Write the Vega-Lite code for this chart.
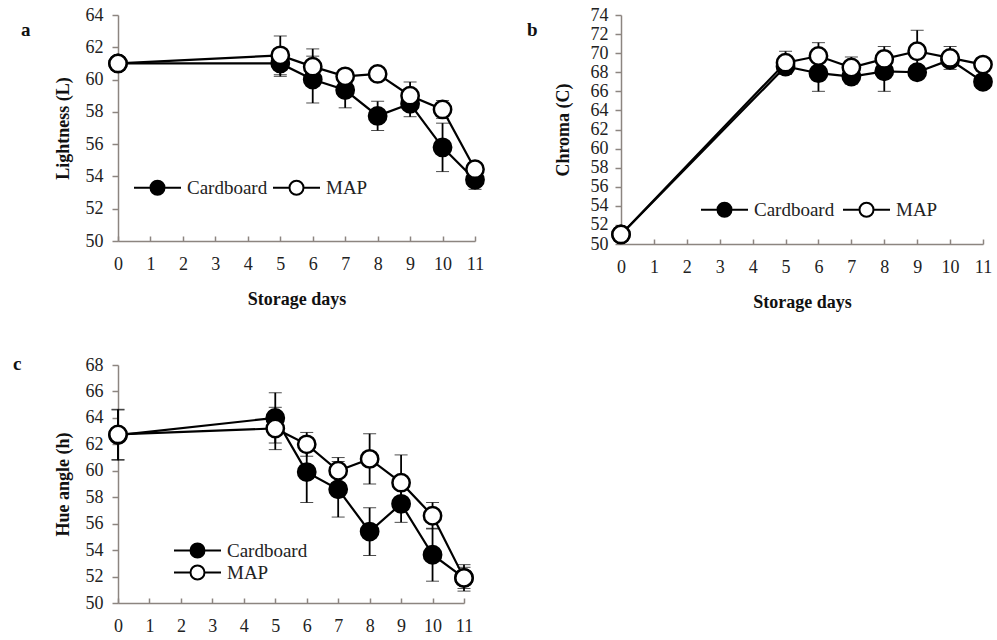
{
  "$schema": "https://vega.github.io/schema/vega-lite/v6.json",
  "background": "white",
  "padding": {"left": 13, "top": 6, "right": 5, "bottom": 5},
  "config": {
    "view": {"stroke": null},
    "font": "Liberation Serif",
    "axis": {
      "grid": false,
      "domainColor": "#8c8580",
      "tickColor": "#8c8580",
      "domainWidth": 1.5,
      "tickWidth": 1.5,
      "labelFont": "Liberation Serif",
      "labelFontSize": 18,
      "labelColor": "#222222",
      "labelOverlap": false,
      "labelFlush": false,
      "titleFont": "Liberation Serif",
      "titleFontSize": 18,
      "titleFontWeight": "bold",
      "titleColor": "#111111"
    },
    "axisY": {"tickSize": 6, "labelPadding": 9, "titlePadding": 13, "labelFont": "Liberation Serif"},
    "axisX": {"tickSize": -5, "labelPadding": 19, "titlePadding": 17, "labelFont": "Liberation Serif"},
    "title": {"font": "Liberation Serif", "fontSize": 19, "fontWeight": "bold", "color": "#111111", "anchor": "start", "frame": "group"},
    "legend": {
      "orient": "none",
      "title": null,
      "padding": 0,
      "labelFont": "Liberation Serif",
      "labelFontSize": 19,
      "labelColor": "#222222",
      "symbolType": "M-3.36,0L-1,0M1,0L3.36,0M1,0A1,1,0,1,1,-1,0A1,1,0,1,1,1,0Z",
      "symbolSize": 196,
      "symbolStrokeColor": "black",
      "symbolStrokeWidth": 2,
      "labelOffset": 20,
      "rowPadding": -1
    }
  },
  "datasets": {
    "pts": [
      {"panel": "a", "day": 0, "series": "Cardboard", "value": 61.0, "err": 0},
      {"panel": "a", "day": 5, "series": "Cardboard", "value": 61.0, "err": 0.8},
      {"panel": "a", "day": 6, "series": "Cardboard", "value": 60.0, "err": 1.45},
      {"panel": "a", "day": 7, "series": "Cardboard", "value": 59.35, "err": 1.1},
      {"panel": "a", "day": 8, "series": "Cardboard", "value": 57.75, "err": 0.9},
      {"panel": "a", "day": 9, "series": "Cardboard", "value": 58.5, "err": 0.8},
      {"panel": "a", "day": 10, "series": "Cardboard", "value": 55.8, "err": 1.5},
      {"panel": "a", "day": 11, "series": "Cardboard", "value": 53.8, "err": 0.6},
      {"panel": "a", "day": 0, "series": "MAP", "value": 61.0, "err": 0},
      {"panel": "a", "day": 5, "series": "MAP", "value": 61.5, "err": 1.2},
      {"panel": "a", "day": 6, "series": "MAP", "value": 60.8, "err": 1.1},
      {"panel": "a", "day": 7, "series": "MAP", "value": 60.2, "err": 0.4},
      {"panel": "a", "day": 8, "series": "MAP", "value": 60.35, "err": 0.3},
      {"panel": "a", "day": 9, "series": "MAP", "value": 59.0, "err": 0.85},
      {"panel": "a", "day": 10, "series": "MAP", "value": 58.15, "err": 0.55},
      {"panel": "a", "day": 11, "series": "MAP", "value": 54.45, "err": 0.4},
      {"panel": "b", "day": 0, "series": "Cardboard", "value": 51.0, "err": 0},
      {"panel": "b", "day": 5, "series": "Cardboard", "value": 68.6, "err": 0.8},
      {"panel": "b", "day": 6, "series": "Cardboard", "value": 67.9, "err": 1.9},
      {"panel": "b", "day": 7, "series": "Cardboard", "value": 67.55, "err": 0.8},
      {"panel": "b", "day": 8, "series": "Cardboard", "value": 68.1, "err": 2.1},
      {"panel": "b", "day": 9, "series": "Cardboard", "value": 68.0, "err": 0.5},
      {"panel": "b", "day": 10, "series": "Cardboard", "value": 69.3, "err": 0.6},
      {"panel": "b", "day": 11, "series": "Cardboard", "value": 67.0, "err": 0.5},
      {"panel": "b", "day": 0, "series": "MAP", "value": 51.0, "err": 0},
      {"panel": "b", "day": 5, "series": "MAP", "value": 69.0, "err": 1.2},
      {"panel": "b", "day": 6, "series": "MAP", "value": 69.7, "err": 1.4},
      {"panel": "b", "day": 7, "series": "MAP", "value": 68.5, "err": 1.1},
      {"panel": "b", "day": 8, "series": "MAP", "value": 69.4, "err": 1.3},
      {"panel": "b", "day": 9, "series": "MAP", "value": 70.2, "err": 2.2},
      {"panel": "b", "day": 10, "series": "MAP", "value": 69.5, "err": 1.2},
      {"panel": "b", "day": 11, "series": "MAP", "value": 68.8, "err": 0.5},
      {"panel": "c", "day": 0, "series": "Cardboard", "value": 62.7, "err": 1.9},
      {"panel": "c", "day": 5, "series": "Cardboard", "value": 64.0, "err": 1.9},
      {"panel": "c", "day": 6, "series": "Cardboard", "value": 59.9, "err": 2.3},
      {"panel": "c", "day": 7, "series": "Cardboard", "value": 58.6, "err": 2.1},
      {"panel": "c", "day": 8, "series": "Cardboard", "value": 55.4, "err": 1.8},
      {"panel": "c", "day": 9, "series": "Cardboard", "value": 57.5, "err": 1.4},
      {"panel": "c", "day": 10, "series": "Cardboard", "value": 53.65, "err": 2.0},
      {"panel": "c", "day": 11, "series": "Cardboard", "value": 51.9, "err": 0.8},
      {"panel": "c", "day": 0, "series": "MAP", "value": 62.75, "err": 1.9},
      {"panel": "c", "day": 5, "series": "MAP", "value": 63.2, "err": 1.6},
      {"panel": "c", "day": 6, "series": "MAP", "value": 62.0, "err": 0.9},
      {"panel": "c", "day": 7, "series": "MAP", "value": 60.0, "err": 1.0},
      {"panel": "c", "day": 8, "series": "MAP", "value": 60.9, "err": 1.9},
      {"panel": "c", "day": 9, "series": "MAP", "value": 59.1, "err": 2.1},
      {"panel": "c", "day": 10, "series": "MAP", "value": 56.6, "err": 1.0},
      {"panel": "c", "day": 11, "series": "MAP", "value": 51.9, "err": 1.0}
    ]
  },
  "resolve": {"scale": {"fill": "independent"}, "legend": {"fill": "independent"}},
  "spacing": 44,
  "vconcat": [
    {
      "resolve": {"scale": {"fill": "independent"}, "legend": {"fill": "independent"}},
      "spacing": 38,
      "hconcat": [
        {
          "width": 357,
          "height": 226,
          "title": {"text": "a", "dx": -97, "dy": 38},
          "data": {"name": "pts"},
          "transform": [{"filter": "datum.panel === 'a'"}],
          "encoding": {
            "x": {"field": "day", "type": "quantitative", "scale": {"domain": [0, 11], "nice": false, "zero": false},
                  "axis": {"title": "Storage days", "values": [0,1,2,3,4,5,6,7,8,9,10,11], "format": "d"}},
            "y": {"field": "value", "type": "quantitative", "scale": {"domain": [50, 64], "nice": false, "zero": false},
                  "axis": {"title": "Lightness (L)", "values": [50,52,54,56,58,60,62,64], "format": "d"}}
          },
          "layer": [
            {"mark": {"type": "errorbar", "ticks": {"size": 13, "color": "black", "strokeWidth": 1.8}, "rule": {"color": "black", "strokeWidth": 1.8}},
             "encoding": {"yError": {"field": "err"}}},
            {"mark": {"type": "line", "color": "black", "strokeWidth": 2.2}, "encoding": {"detail": {"field": "series"}}},
            {"mark": {"type": "circle", "size": 300, "stroke": "black", "strokeWidth": 2.5, "opacity": 1},
             "encoding": {"fill": {"field": "series", "type": "nominal", "scale": {"domain": ["Cardboard", "MAP"], "range": ["black", "white"]},
                                   "legend": {"direction": "horizontal", "legendX": 30, "legendY": 163, "columnPadding": 0}}}}
          ]
        },
        {
          "width": 362,
          "height": 229,
          "title": {"text": "b", "dx": -94, "dy": 38},
          "data": {"name": "pts"},
          "transform": [{"filter": "datum.panel === 'b'"}],
          "encoding": {
            "x": {"field": "day", "type": "quantitative", "scale": {"domain": [0, 11], "nice": false, "zero": false},
                  "axis": {"title": "Storage days", "values": [0,1,2,3,4,5,6,7,8,9,10,11], "format": "d"}},
            "y": {"field": "value", "type": "quantitative", "scale": {"domain": [50, 74], "nice": false, "zero": false},
                  "axis": {"title": "Chroma (C)", "values": [50,52,54,56,58,60,62,64,66,68,70,72,74], "format": "d", "labelPadding": 7, "titlePadding": 18}}
          },
          "layer": [
            {"mark": {"type": "errorbar", "ticks": {"size": 13, "color": "black", "strokeWidth": 1.8}, "rule": {"color": "black", "strokeWidth": 1.8}},
             "encoding": {"yError": {"field": "err"}}},
            {"mark": {"type": "line", "color": "black", "strokeWidth": 2.2}, "encoding": {"detail": {"field": "series"}}},
            {"mark": {"type": "circle", "size": 300, "stroke": "black", "strokeWidth": 2.5, "opacity": 1},
             "encoding": {"fill": {"field": "series", "type": "nominal", "scale": {"domain": ["Cardboard", "MAP"], "range": ["black", "white"]},
                                   "legend": {"direction": "horizontal", "legendX": 94, "legendY": 185, "columnPadding": 3}}}}
          ]
        }
      ]
    },
    {
      "width": 346,
      "height": 238,
      "title": {"text": "c", "dx": -105, "dy": 22},
      "data": {"name": "pts"},
      "transform": [{"filter": "datum.panel === 'c'"}],
      "encoding": {
        "x": {"field": "day", "type": "quantitative", "scale": {"domain": [0, 11], "nice": false, "zero": false},
              "axis": {"title": null, "values": [0,1,2,3,4,5,6,7,8,9,10,11], "format": "d"}},
        "y": {"field": "value", "type": "quantitative", "scale": {"domain": [50, 68], "nice": false, "zero": false},
              "axis": {"title": "Hue angle (h)", "values": [50,52,54,56,58,60,62,64,66,68], "format": "d"}}
      },
      "layer": [
        {"mark": {"type": "errorbar", "ticks": {"size": 13, "color": "black", "strokeWidth": 1.8}, "rule": {"color": "black", "strokeWidth": 1.8}},
         "encoding": {"yError": {"field": "err"}}},
        {"mark": {"type": "line", "color": "black", "strokeWidth": 2.2}, "encoding": {"detail": {"field": "series"}}},
        {"mark": {"type": "circle", "size": 300, "stroke": "black", "strokeWidth": 2.5, "opacity": 1},
         "encoding": {"fill": {"field": "series", "type": "nominal", "scale": {"domain": ["Cardboard", "MAP"], "range": ["black", "white"]},
                               "legend": {"direction": "vertical", "legendX": 70, "legendY": 176}}}}
      ]
    }
  ]
}
